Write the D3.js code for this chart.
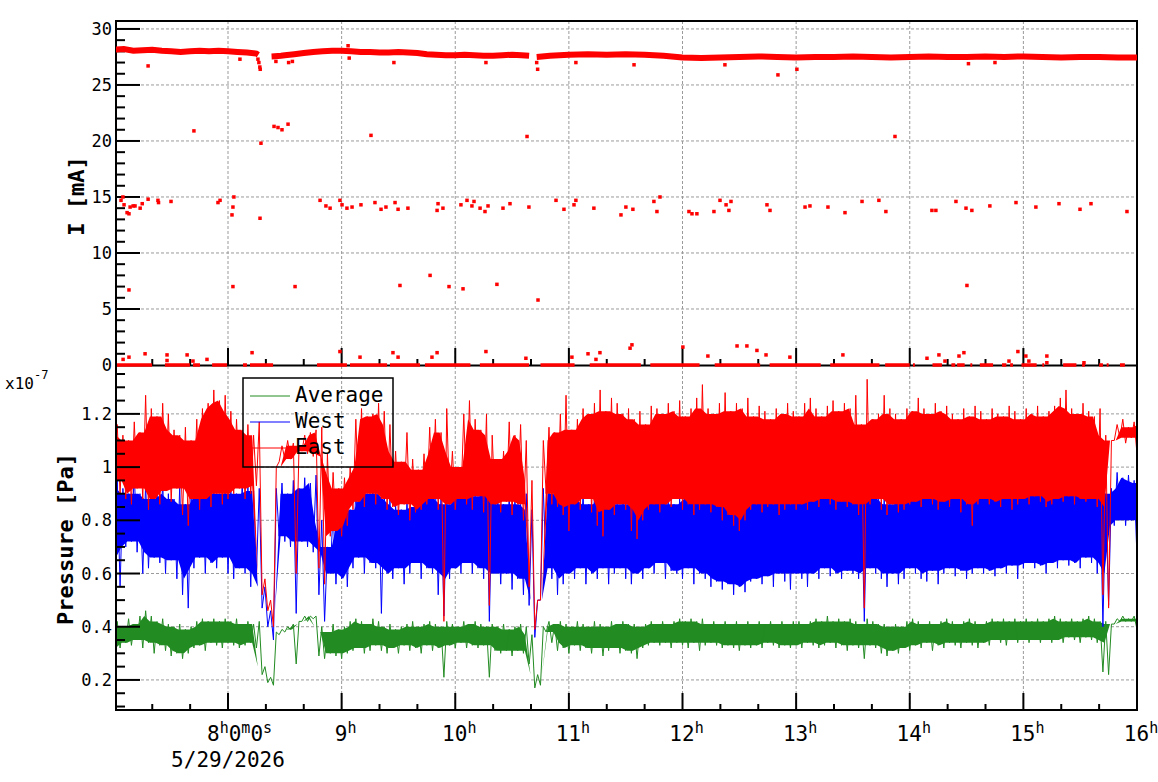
<!DOCTYPE html>
<html>
<head>
<meta charset="utf-8">
<script src="https://cdn.jsdelivr.net/npm/d3@7"></script>
<style>
  body { margin: 0; background: #fff; }
  text { font-family: "DejaVu Sans Mono", monospace; fill: #000; }
</style>
</head>
<body>
<svg id="chart" width="1158" height="782"></svg>
<script>
// ---- data ----
// pressure: 3-minute bins starting 7:00, low/high excursion of each bin (x1e-7 Pa)
const binMinutes = 3;
const eastHi = [
  1.16,1.12,1.10,1.17,1.13,1.27,1.22,1.19,1.24,1.20,
  1.14,1.12,1.15,1.10,1.18,1.22,1.24,1.29,1.25,1.27,
  1.21,1.18,1.14,1.16,1.12,1.17,0.58,0.50,1.00,1.08,
  1.10,1.09,1.08,1.12,1.13,1.14,1.15,1.05,0.98,0.92,
  0.96,1.00,1.18,1.22,1.19,1.20,1.24,1.21,1.16,1.06,
  1.02,1.13,1.03,0.99,1.05,1.15,1.18,1.13,1.22,1.06,
  1.00,1.20,1.25,1.18,1.14,1.20,1.12,1.03,1.06,1.17,
  1.12,1.16,1.10,0.95,0.50,1.10,1.15,1.13,1.20,1.27,
  1.14,1.18,1.22,1.20,1.24,1.29,1.21,1.26,1.24,1.20,
  1.22,1.18,1.21,1.16,1.23,1.22,1.20,1.24,1.21,1.25,
  1.19,1.22,1.26,1.31,1.22,1.20,1.24,1.28,1.21,1.24,
  1.22,1.26,1.19,1.23,1.21,1.18,1.22,1.20,1.24,1.21,
  1.19,1.24,1.26,1.22,1.19,1.23,1.25,1.21,1.24,1.22,
  1.27,1.16,1.33,1.18,1.20,1.27,1.22,1.20,1.18,1.22,
  1.21,1.26,1.22,1.20,1.24,1.21,1.23,1.20,1.18,1.22,
  1.19,1.23,1.21,1.18,1.22,1.20,1.19,1.23,1.21,1.18,
  1.22,1.20,1.23,1.19,1.21,1.23,1.26,1.29,1.22,1.20,
  1.24,1.21,1.19,1.22,1.12,1.10,1.16,1.18,1.15,1.17,1.16
];
const eastLo = [
  0.95,0.90,0.88,0.86,0.92,0.88,0.84,0.88,0.86,0.91,
  0.87,0.92,0.82,0.78,0.88,0.84,0.88,0.85,0.90,0.86,
  0.88,0.90,0.92,0.88,0.90,0.93,0.52,0.46,0.40,1.02,
  1.03,1.03,0.60,1.06,1.05,1.04,0.62,0.56,0.74,0.76,
  0.74,0.78,0.84,0.87,0.85,0.90,0.86,0.88,0.84,0.85,
  0.82,0.86,0.80,0.83,0.84,0.86,0.88,0.84,0.42,0.86,
  0.84,0.88,0.86,0.84,0.89,0.83,0.48,0.86,0.83,0.87,
  0.82,0.86,0.80,0.55,0.39,0.50,0.90,0.86,0.85,0.82,
  0.76,0.86,0.84,0.88,0.83,0.78,0.74,0.84,0.82,0.86,
  0.84,0.76,0.73,0.80,0.84,0.86,0.83,0.86,0.85,0.88,
  0.84,0.86,0.82,0.84,0.86,0.83,0.85,0.80,0.82,0.78,
  0.76,0.80,0.84,0.86,0.83,0.85,0.86,0.82,0.84,0.86,
  0.84,0.86,0.84,0.87,0.85,0.88,0.86,0.84,0.87,0.85,
  0.86,0.82,0.47,0.86,0.88,0.84,0.82,0.86,0.83,0.84,
  0.86,0.87,0.85,0.88,0.86,0.84,0.87,0.85,0.88,0.83,
  0.86,0.78,0.86,0.88,0.86,0.87,0.85,0.88,0.84,0.86,
  0.88,0.86,0.89,0.87,0.85,0.86,0.88,0.87,0.89,0.86,
  0.88,0.87,0.88,0.85,0.52,0.47,1.10,1.11,1.09,1.11,1.05
];
const westHi = [
  0.96,0.92,0.90,0.98,0.90,0.94,0.88,0.92,0.95,0.90,
  0.88,0.93,0.86,0.90,0.94,0.96,0.92,0.94,0.90,0.96,
  0.92,0.90,0.95,0.93,0.91,0.92,0.55,0.46,0.92,0.94,
  0.90,0.95,0.92,0.96,0.94,0.97,0.80,0.70,0.84,0.80,
  0.86,0.84,0.92,0.95,0.90,0.93,0.94,0.90,0.88,0.86,
  0.84,0.88,0.85,0.90,0.92,0.88,0.94,0.90,0.86,0.92,
  0.90,0.94,0.92,0.89,0.96,1.00,0.90,0.88,0.86,0.90,
  0.88,0.86,0.90,0.84,0.50,0.92,0.98,0.90,0.92,0.88,
  0.90,0.88,0.91,0.86,0.90,0.92,0.88,0.90,0.86,0.92,
  0.88,0.86,0.90,0.88,0.92,0.89,0.87,0.90,0.86,0.88,
  0.90,0.92,0.95,0.98,0.92,0.90,0.94,0.88,0.91,0.90,
  0.92,0.89,0.92,0.95,0.90,0.93,0.91,0.94,0.90,0.92,
  0.96,0.93,0.91,0.94,0.92,0.95,0.93,0.90,0.94,0.92,
  0.95,0.90,0.88,0.92,0.90,0.88,0.86,0.90,0.87,0.89,
  0.96,0.92,0.90,0.94,0.92,0.90,0.93,0.96,0.91,0.94,
  0.92,0.95,0.93,0.96,0.92,0.95,0.93,0.96,0.94,0.92,
  0.96,0.97,0.94,0.96,0.98,0.95,0.97,0.99,0.96,0.95,
  0.97,0.99,0.96,0.94,0.90,0.92,0.98,0.96,0.97,0.95,0.94
];
const westLo = [
  0.66,0.55,0.70,0.72,0.68,0.60,0.62,0.66,0.64,0.60,
  0.65,0.58,0.52,0.47,0.62,0.66,0.60,0.64,0.62,0.66,
  0.60,0.58,0.62,0.60,0.55,0.60,0.47,0.40,0.35,0.74,
  0.72,0.70,0.45,0.72,0.70,0.68,0.52,0.42,0.60,0.56,
  0.58,0.55,0.62,0.66,0.60,0.64,0.62,0.45,0.60,0.58,
  0.62,0.56,0.60,0.64,0.58,0.62,0.60,0.52,0.44,0.58,
  0.62,0.60,0.64,0.60,0.62,0.58,0.42,0.60,0.56,0.60,
  0.54,0.58,0.52,0.48,0.36,0.50,0.62,0.58,0.52,0.56,
  0.60,0.58,0.62,0.56,0.60,0.58,0.62,0.56,0.60,0.62,
  0.58,0.56,0.60,0.58,0.62,0.60,0.64,0.58,0.61,0.60,
  0.58,0.62,0.56,0.60,0.58,0.55,0.57,0.54,0.56,0.52,
  0.55,0.53,0.57,0.58,0.56,0.59,0.55,0.60,0.57,0.54,
  0.60,0.58,0.55,0.60,0.58,0.62,0.59,0.60,0.58,0.61,
  0.60,0.58,0.42,0.62,0.60,0.58,0.55,0.60,0.56,0.58,
  0.62,0.60,0.58,0.57,0.61,0.56,0.60,0.62,0.59,0.61,
  0.58,0.60,0.62,0.60,0.61,0.59,0.62,0.60,0.63,0.58,
  0.62,0.64,0.62,0.63,0.60,0.64,0.62,0.65,0.63,0.64,
  0.62,0.66,0.64,0.60,0.40,0.48,0.78,0.80,0.78,0.80,0.66
];
const avgHi = [
  0.42,0.40,0.43,0.41,0.44,0.46,0.44,0.42,0.43,0.41,
  0.40,0.41,0.39,0.40,0.42,0.43,0.42,0.43,0.42,0.43,
  0.42,0.43,0.41,0.42,0.41,0.42,0.25,0.21,0.38,0.39,
  0.40,0.41,0.42,0.44,0.44,0.44,0.40,0.38,0.41,0.39,
  0.40,0.42,0.43,0.42,0.41,0.43,0.42,0.40,0.41,0.39,
  0.40,0.41,0.42,0.40,0.41,0.42,0.41,0.40,0.42,0.41,
  0.40,0.42,0.41,0.42,0.41,0.40,0.41,0.40,0.41,0.39,
  0.40,0.41,0.40,0.37,0.22,0.40,0.42,0.41,0.42,0.41,
  0.40,0.42,0.41,0.40,0.42,0.41,0.40,0.42,0.41,0.42,
  0.41,0.41,0.40,0.41,0.42,0.41,0.42,0.41,0.42,0.43,
  0.42,0.43,0.42,0.43,0.41,0.42,0.41,0.42,0.41,0.42,
  0.41,0.42,0.41,0.42,0.41,0.42,0.41,0.42,0.41,0.42,
  0.42,0.41,0.42,0.43,0.42,0.44,0.42,0.43,0.42,0.43,
  0.42,0.41,0.43,0.42,0.41,0.41,0.40,0.41,0.40,0.42,
  0.43,0.42,0.41,0.42,0.41,0.42,0.43,0.42,0.41,0.42,
  0.43,0.42,0.41,0.42,0.43,0.42,0.43,0.42,0.43,0.42,
  0.43,0.42,0.43,0.42,0.43,0.44,0.43,0.42,0.43,0.42,
  0.43,0.44,0.43,0.42,0.42,0.41,0.43,0.44,0.43,0.44,0.43
];
const avgLo = [
  0.30,0.32,0.34,0.33,0.35,0.32,0.34,0.30,0.33,0.31,
  0.29,0.30,0.28,0.30,0.32,0.33,0.31,0.34,0.33,0.32,
  0.34,0.33,0.32,0.33,0.34,0.32,0.22,0.19,0.18,0.37,
  0.38,0.39,0.26,0.42,0.42,0.43,0.29,0.28,0.30,0.29,
  0.28,0.30,0.31,0.32,0.30,0.31,0.33,0.31,0.30,0.32,
  0.30,0.33,0.31,0.32,0.30,0.33,0.31,0.32,0.21,0.33,
  0.32,0.34,0.32,0.33,0.32,0.33,0.21,0.31,0.30,0.31,
  0.29,0.31,0.30,0.26,0.17,0.18,0.38,0.34,0.31,0.32,
  0.30,0.33,0.31,0.32,0.30,0.32,0.29,0.31,0.32,0.30,
  0.31,0.30,0.28,0.32,0.33,0.34,0.33,0.34,0.32,0.34,
  0.33,0.32,0.34,0.31,0.33,0.34,0.33,0.32,0.33,0.32,
  0.31,0.33,0.32,0.33,0.32,0.34,0.33,0.32,0.33,0.32,
  0.33,0.32,0.34,0.33,0.32,0.33,0.34,0.32,0.33,0.31,
  0.33,0.32,0.28,0.33,0.32,0.30,0.29,0.31,0.30,0.32,
  0.31,0.33,0.32,0.34,0.31,0.33,0.32,0.34,0.33,0.32,
  0.34,0.33,0.32,0.34,0.33,0.35,0.34,0.33,0.35,0.34,
  0.35,0.34,0.35,0.34,0.35,0.34,0.35,0.34,0.36,0.35,
  0.34,0.36,0.35,0.34,0.23,0.22,0.41,0.42,0.42,0.42,0.39
];

// beam current: main band (minutes after 7:00, mA); null = gap
const bandMin = [0,5,10,15,20,25,30,35,40,45,50,55,60,65,70,75,76,77,
  83,88,90,95,100,105,110,115,120,125,130,135,140,145,150,155,160,165,170,175,
  180,185,190,195,200,205,210,215,219,220,
  223,230,240,250,260,270,280,290,300,310,320,330,340,350,360,370,380,390,
  400,410,420,430,440,450,460,470,480,490,500,510,520,530,540];
const bandVal = [28.15,28.2,28.05,28.1,28.15,28.05,28.0,27.95,28.0,28.05,28.0,28.05,28.0,27.95,27.9,27.8,27.7,null,
  27.55,27.6,27.65,27.75,27.85,27.95,28.0,28.05,28.05,28.0,27.95,27.95,27.9,27.9,27.95,27.9,27.85,27.75,27.7,27.65,
  27.65,27.7,27.65,27.6,27.6,27.65,27.7,27.65,27.6,null,
  27.5,27.6,27.7,27.75,27.7,27.75,27.7,27.6,27.45,27.4,27.45,27.5,27.55,27.5,27.45,27.5,27.5,27.55,
  27.5,27.45,27.5,27.55,27.5,27.5,27.55,27.5,27.55,27.5,27.45,27.5,27.5,27.45,27.45];

// beam current: single readings away from the band
const outMin = [3.5,4.5,5.1,6.7,7.7,8.3,9.9,10.9,13.6,14.7,17.8,23.0,23.3,29.9,54.7,55.8,62.1,62.6,63.1,
  108.6,111.7,113.9,119.1,120.2,122.8,125.5,130.2,137.6,140.8,143.4,148.2,149.8,155.0,170.4,170.9,173.5,
  183.0,186.2,188.8,189.9,193.1,195.7,197.3,205.2,208.9,218.9,233.2,237.4,242.7,243.7,253.2,267.5,270.1,
  273.8,284.9,286.5,288.1,303.4,305.0,307.6,316.6,319.8,323.0,324.5,325.6,344.6,346.2,364.7,367.3,376.8,
  385.8,394.8,403.7,407.4,431.7,433.8,444.4,449.7,452.8,462.3,476.1,486.6,498.8,509.9,515.7,534.7,
  7.7,42.0,62.6,77.4,76.9,84.3,86.4,88.5,91.7,95.4,135.5,150.8,166.7,176.7,184.1,202.0,217.9,223.7,
  350.4,360.4,412.2,450.2,
  17.8,66.3,75.8,76.3,76.8,77.0,85.3,92.0,94.0,123.4,124.0,147.6,196.2,223.0,223.5,243.7,274.4,322.4,451.0,465.0,
  4.6,7.7,16.2,27.8,27.8,38.4,41.5,48.9,72.7,119.1,129.7,147.1,149.8,167.7,170.4,196.2,217.3,241.6,250.1,
  254.3,256.4,272.3,273.3,300.2,313.4,328.8,334.0,339.3,344.1,356.7,384.7,429.1,435.4,438.6,446.0,448.6,
  472.4,477.1,481.3,482.9,492.4,492.4,512.0];
const outVal = [14.7,15.0,14.3,13.6,13.5,14.1,14.2,14.2,14.0,14.4,14.8,14.7,14.5,14.6,14.5,14.7,13.4,14.1,15.0,
  14.7,14.2,14.0,14.7,14.3,14.0,14.1,14.3,14.5,13.9,14.1,14.5,13.9,14.0,13.8,14.4,14.0,
  14.3,14.7,14.2,14.6,14.0,13.7,14.2,14.0,14.4,14.1,14.7,13.9,14.3,14.7,14.0,13.4,14.1,
  13.9,14.6,13.7,15.0,13.7,13.5,13.5,13.7,14.7,14.3,13.8,14.6,14.3,13.8,14.1,14.2,14.1,
  13.6,14.6,14.7,13.7,13.8,13.8,14.6,14.0,13.8,14.2,14.5,14.1,14.4,13.9,14.4,13.7,
  6.7,20.9,7.0,19.8,13.1,21.3,21.2,21.0,21.5,7.0,20.5,7.1,8.0,7.0,6.8,7.2,20.4,5.8,
  25.9,26.4,20.4,7.1,
  26.7,27.3,27.3,27.0,26.6,26.4,27.1,27.0,27.1,28.5,27.4,27.0,27.0,27.0,26.4,27.0,26.8,26.8,26.9,27.0,
  0.5,0.7,1.0,0.9,0.4,0.9,0.35,0.5,1.1,1.2,0.7,1.1,0.7,0.7,1.1,1.2,0.6,0.7,1.0,
  0.5,1.1,1.5,1.8,1.6,0.8,1.7,1.7,1.3,0.9,0.7,0.9,0.6,0.9,0.35,0.8,1.1,
  0.35,1.2,0.8,0.35,0.8,0.2,0.2];

// beam current: stretches (minutes after 7:00) where readings sit at 0 mA
const zeroStart = [1.4,26.7,41.5,51.6,67.9,71.6,107,124.4,145.5,164,193,225,251,283,317,346,378,407,
  421.7,432,442,445,452,457,468.7,473,479,490,501,511,520,524,531];
const zeroEnd = [19.9,39.9,45.2,59.5,70,83.8,122.8,144,161.4,188,219,243,278,309,341,373,404,420,
  422.7,437,444,449,453,464,471,474.5,487,491,508,512.5,522,525,533.6];

const iTicks = [0, 5, 10, 15, 20, 25, 30];
const pTicks = [0.2, 0.4, 0.6, 0.8, 1.0, 1.2];
const pTickLabels = ['0.2', '0.4', '0.6', '0.8', '1', '1.2'];
const hourTicks = [8, 9, 10, 11, 12, 13, 14, 15, 16];
const legendNames = ['Average', 'West', 'East'];
const legendColors = ['#228b22', '#0000ff', '#ff0000'];

// ---- layout ----
const svg = d3.select('#chart');
const left = 116, right = 1137, topY = 21, midY = 366, botY = 710;

const day0 = new Date(2026, 4, 29, 7, 0, 0);
const atMin = m => new Date(+day0 + m * 60000);
const atHour = h => new Date(2026, 4, 29, h, 0, 0);

const x = d3.scaleTime()
    .domain([new Date(2026, 4, 29, 7, 0, 51), new Date(2026, 4, 29, 16, 0, 0)])
    .range([left, right]);
const yI = d3.scaleLinear().domain([-0.09, 30.71]).range([midY, topY]);
const yP = d3.scaleLinear().domain([0.087, 1.38]).range([botY, midY]);

const defs = svg.append('defs');
defs.append('clipPath').attr('id', 'clipTop')
    .append('rect').attr('x', left).attr('y', topY).attr('width', right - left).attr('height', midY - topY + 2);
defs.append('clipPath').attr('id', 'clipBot')
    .append('rect').attr('x', left).attr('y', midY).attr('width', right - left).attr('height', botY - midY);

// grid
const grid = svg.append('g').attr('stroke', '#9a9a9a').attr('stroke-width', 1).attr('stroke-dasharray', '3,2');
hourTicks.slice(0, -1).forEach(h => {
    grid.append('line').attr('x1', x(atHour(h))).attr('x2', x(atHour(h))).attr('y1', topY).attr('y2', botY);
});
iTicks.filter(v => v > 0).forEach(v => {
    grid.append('line').attr('x1', left).attr('x2', right).attr('y1', yI(v)).attr('y2', yI(v));
});
pTicks.forEach(v => {
    grid.append('line').attr('x1', left).attr('x2', right).attr('y1', yP(v)).attr('y2', yP(v));
});

// ---- pressure (bottom pad) ----
const botG = svg.append('g').attr('clip-path', 'url(#clipBot)');
const pLine = d3.line().x(d => x(d[0])).y(d => yP(d[1]));
const near = (a, i) => [a[Math.max(0, i - 1)], a[i], a[Math.min(a.length - 1, i + 1)]];

function zigzag(lo, hi) {
    const pts = [];
    lo.forEach((v, i) => {
        pts.push([atMin(i * binMinutes), v]);
        pts.push([atMin(i * binMinutes + binMinutes / 2), hi[i]]);
    });
    return pts;
}

// dense core of each trace (inner envelope of neighbouring bins), raw excursions drawn on top
const core = d3.area()
    .x((d, i) => x(atMin(i * binMinutes + binMinutes / 4)))
    .y0(d => yP(d[0]))
    .y1(d => yP(d[1]));

[[avgLo, avgHi], [westLo, westHi], [eastLo, eastHi]].forEach((s, i) => {
    const band = s[0].map((v, k) => {
        const top = d3.min(near(s[1], k));
        return [Math.min(d3.max(near(s[0], k)), top), top];
    });
    botG.append('path')
        .attr('d', core(band))
        .attr('fill', legendColors[i]);
    botG.append('path')
        .attr('d', pLine(zigzag(s[0], s[1])))
        .attr('fill', 'none')
        .attr('stroke', legendColors[i])
        .attr('stroke-width', 1);
});

// ---- axes / frame ----
const axes = svg.append('g').attr('stroke', '#000').attr('stroke-width', 2);

axes.append('rect').attr('x', left).attr('y', topY).attr('width', right - left).attr('height', botY - topY)
    .attr('fill', 'none');
axes.append('line').attr('x1', left).attr('x2', right).attr('y1', midY - 0.5).attr('y2', midY - 0.5);

// y ticks, current
d3.range(0, 31, 1).forEach(v => {
    const major = v % 5 === 0;
    axes.append('line').attr('x1', left).attr('x2', left + (major ? 24 : 9))
        .attr('y1', yI(v)).attr('y2', yI(v));
});
// y ticks, pressure
d3.range(0.1, 1.36, 0.05).forEach(v => {
    const major = Math.abs(v * 5 - Math.round(v * 5)) < 1e-6;
    axes.append('line').attr('x1', left).attr('x2', left + (major ? 24 : 9))
        .attr('y1', yP(v)).attr('y2', yP(v));
});
// x ticks (both pads, pointing up)
d3.range(20, 9 * 60 + 1, 20).forEach(m => {
    const major = m % 60 === 0;
    [midY - 1, botY].forEach(base => {
        axes.append('line').attr('x1', x(atMin(m))).attr('x2', x(atMin(m)))
            .attr('y1', base).attr('y2', base - (major ? 17 : 6));
    });
});

// ---- current (top pad), drawn over the frame like the original ----
const topG = svg.append('g').attr('clip-path', 'url(#clipTop)');

zeroStart.forEach((s, i) => {
    topG.append('line')
        .attr('x1', x(atMin(s))).attr('x2', x(atMin(zeroEnd[i])))
        .attr('y1', yI(0)).attr('y2', yI(0))
        .attr('stroke', '#ff0000').attr('stroke-width', 3.5);
});

const bandLine = d3.line()
    .defined((d, i) => bandVal[i] !== null)
    .x(d => x(atMin(d)))
    .y((d, i) => yI(bandVal[i]));
topG.append('path')
    .attr('d', bandLine(bandMin))
    .attr('fill', 'none').attr('stroke', '#ff0000').attr('stroke-width', 6);

topG.selectAll('rect.out')
    .data(outMin)
    .enter().append('rect')
    .attr('class', 'out')
    .attr('x', d => x(atMin(d)) - 1.75)
    .attr('y', (d, i) => yI(outVal[i]) - 1.75)
    .attr('width', 3.5).attr('height', 3.5)
    .attr('fill', '#ff0000');

// tick labels
const labels = svg.append('g').attr('font-size', 17).attr('text-anchor', 'end');
iTicks.forEach(v => {
    labels.append('text').attr('x', 112).attr('y', yI(v)).attr('dy', '0.36em').text(v);
});
pTicks.forEach((v, i) => {
    labels.append('text').attr('x', 112).attr('y', yP(v)).attr('dy', '0.36em').text(pTickLabels[i]);
});

const mult = svg.append('text').attr('x', 5).attr('y', 389).attr('font-size', 16);
mult.append('tspan').text('x10');
mult.append('tspan').attr('font-size', 12).attr('dy', -10).text('-7');

// x labels with superscripts
function hourLabel(parts, xc, anchor) {
    const t = svg.append('text').attr('x', xc).attr('y', 741).attr('font-size', 21).attr('text-anchor', anchor);
    parts.forEach((p, j) => {
        t.append('tspan').attr('dy', j > 0 ? 8 : 0).text(p[0]);
        t.append('tspan').attr('font-size', 15).attr('dy', -8).text(p[1]);
    });
    return t;
}
hourTicks.forEach(h => {
    if (h === 8) hourLabel([['8', 'h'], ['0', 'm'], ['0', 's']], x(atHour(h)) - 21, 'start');
    else hourLabel([[String(h), 'h']], x(atHour(h)) + 4, 'middle');
});
svg.append('text').attr('x', x(atHour(8))).attr('y', 767).attr('font-size', 21)
    .attr('text-anchor', 'middle').text('5/29/2026');

// axis titles
svg.append('text').attr('transform', 'translate(84,196) rotate(-90)')
    .attr('text-anchor', 'middle').attr('font-size', 22).attr('font-weight', 'bold').text('I [mA]');
svg.append('text').attr('transform', 'translate(73,539) rotate(-90)')
    .attr('text-anchor', 'middle').attr('font-size', 22).attr('font-weight', 'bold').text('Pressure [Pa]');

// legend
const leg = svg.append('g');
leg.append('rect').attr('x', 243).attr('y', 378).attr('width', 150).attr('height', 89)
    .attr('fill', 'none').attr('stroke', '#000').attr('stroke-width', 1.5);
legendNames.forEach((n, i) => {
    const yy = 396 + i * 26;
    leg.append('line').attr('x1', 250).attr('x2', 290).attr('y1', yy).attr('y2', yy)
        .attr('stroke', legendColors[i]).attr('stroke-width', 1);
    leg.append('text').attr('x', 295).attr('y', yy + 6).attr('font-size', 21).text(n);
});
</script>
</body>
</html>
